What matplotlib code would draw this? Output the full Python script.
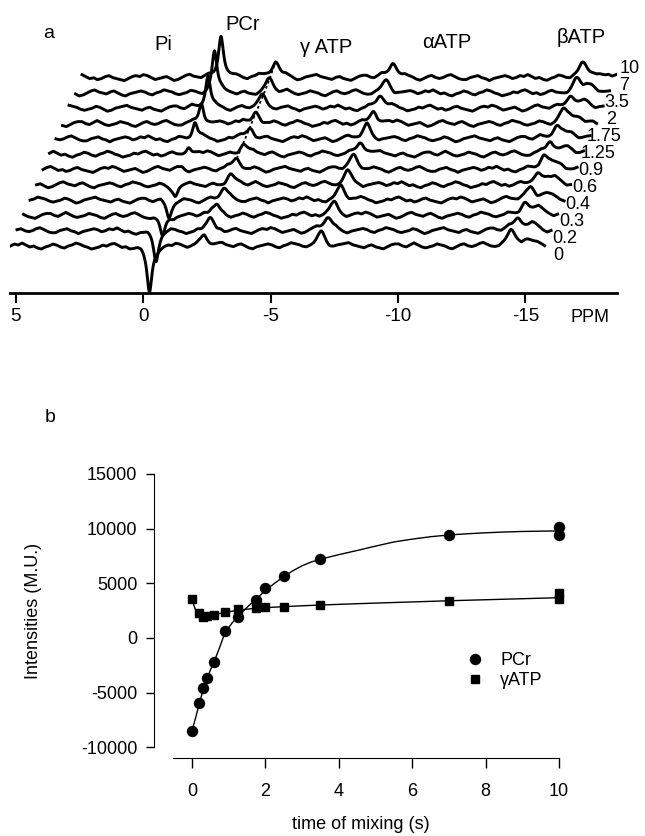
import numpy as np
import matplotlib
matplotlib.use("Agg")
import matplotlib.pyplot as plt

plt.rcParams['font.family'] = ['Liberation Sans', 'DejaVu Sans']
plt.rcParams['axes.unicode_minus'] = False

# ==========================
# Panel a : stacked spectra
# ==========================
mix_labels = ["0", "0.2", "0.3", "0.4", "0.6", "0.9", "1.25", "1.75", "2", "3.5", "7", "10"]
ppm_ticks = [5, 0, -5, -10, -15]

# peak positions (ppm) : PCr, gamma ATP, alpha ATP, beta ATP
peak_ppm = [-0.25, -2.4, -7.0, -14.45]
# peak heights per spectrum (bottom -> top)
pcr_amp = [-45, -30, -22, -17, -10, 3, 9, 16, 21, 33, 41, 44]
gatp_amp = [13, 11, 11, 11, 11, 11, 11, 11, 12, 12, 13, 17]
aatp_amp = [14, 14, 14, 14, 14, 14, 14, 14, 14, 14, 13, 16]
batp_amp = [14, 13, 13, 13, 13, 13, 13, 13, 13, 13, 13, 12]

# baseline wiggle (every ~0.15 ppm)
noise = [0, 2, 1, 3, 1, -1, 0, -2, -3, -1, 0, 2, 1, -1, -2, 0, 1, 3, 2, 0, -1, -3, -2, -1,
         1, 0, 2, 3, 1, -1, 0, -2, -1, 1, 2, 0, -1, -2, -3, -1, 1, 2, 1, 3, 2, 0, -2, -1,
         0, 1, -1, -3, -2, 0, 2, 3, 1, 0, -1, 1, 2, 0, -2, -3, -1, 0, 1, 2, 1, -1, -2, 0,
         1, 3, 2, 1, -1, -2, -1, 0, 2, 1, -1, -3, -2, 0, 1, 2, 3, 1, 0, -1, -2, 0, 1, -1,
         -2, -3, -1, 1, 2, 2, 0, -1, 1, 3, 1, -1, -2, -1, 0, 2, 1, 0, -2, -3, -1, 1, 2, 0,
         -1, 0, 2, 3, 1, -1, -2, -2, 0, 1, 2, 0, -1, -3, -1, 0, 1, 2, 1, -1]

# ==========================
# Panel b : intensities
# ==========================
pcr_t = [0, 0.2, 0.3, 0.4, 0.6, 0.9, 1.25, 1.75, 2, 2.5, 3.5, 7, 10, 10]
pcr_i = [-8490, -5930, -4610, -3690, -2170, 640, 1890, 3480, 4580, 5680, 7210, 9430, 10140, 9430]
gatp_t = [0, 0.2, 0.3, 0.4, 0.6, 0.9, 1.25, 1.75, 2, 2.5, 3.5, 7, 10, 10]
gatp_i = [3600, 2260, 1950, 2050, 2100, 2410, 2630, 2720, 2810, 2870, 3020, 3420, 4100, 3550]

# fitted curves
pcr_fit_t = [0, 0.1, 0.2, 0.3, 0.4, 0.5, 0.6, 0.75, 0.9, 1.1, 1.25, 1.5, 1.75, 2.0, 2.25,
             2.5, 2.75, 3.0, 3.25, 3.5, 4.0, 4.5, 5.0, 5.5, 6.0, 6.5, 7.0, 7.5, 8.0, 8.5,
             9.0, 9.5, 10]
pcr_fit = [-8490, -7300, -6000, -4800, -3800, -2950, -2200, -900, 500, 1400, 1950, 2800,
           3550, 4350, 5000, 5600, 6150, 6600, 6950, 7200, 7620, 8000, 8400, 8780, 9040,
           9260, 9420, 9530, 9620, 9690, 9740, 9770, 9790]
gatp_fit_t = [0, 0.05, 0.1, 0.15, 0.2, 0.3, 0.4, 0.5, 0.6, 0.75, 0.9, 1.1, 1.25, 1.5,
              1.75, 2.0, 2.5, 3.0, 3.5, 4.5, 5.5, 7.0, 8.5, 10]
gatp_fit = [3600, 3000, 2550, 2250, 2120, 2050, 2050, 2080, 2130, 2230, 2330, 2450, 2530,
            2630, 2710, 2770, 2860, 2940, 3010, 3130, 3240, 3400, 3540, 3680]

W, H = 645, 836
fig = plt.figure(figsize=(W / 100, H / 100), dpi=100)

# --------------------------
# panel a
# --------------------------
ax1 = fig.add_axes([10 / W, 1 - 293 / H, 607 / W, 283 / H])
ax1.set_xlim(5.22, -18.59)
ax1.set_ylim(0, 283)

shift = 0.255   # ppm shift per spectrum
step = 15.3     # vertical step per spectrum
base0 = 47
local = np.linspace(5.2, -15.75, 1600)
noise_ppm = np.linspace(5.2, -15.75, len(noise))
widths = [0.12, 0.18, 0.18, 0.2]

for k in range(len(mix_labels)):
    wig = np.interp(local, noise_ppm[::-1], np.roll(noise, 23 * k)[::-1])
    y = wig.astype(float)
    amps = [pcr_amp[k], gatp_amp[k], aatp_amp[k], batp_amp[k]]
    for p, a, w in zip(peak_ppm, amps, widths):
        y += a / (1 + ((local - p) / w) ** 2)
    # shoulder on the beta ATP line
    y += 0.45 * batp_amp[k] / (1 + ((local - (peak_ppm[3] - 0.6)) / 0.3) ** 2)
    base = base0 + step * k
    ax1.plot(local - shift * k, base + y, color="black", lw=2.1, solid_joinstyle="round")
    ax1.text(-15.75 - shift * k - 0.55, base - (5.5 - k) * 1.7, mix_labels[k],
             ha="center", va="center", fontsize=13)

# dotted ridge over gamma ATP tips
tips_x = [peak_ppm[1] - shift * k for k in range(5, len(mix_labels))]
tips_y = [base0 + step * k + gatp_amp[k] for k in range(5, len(mix_labels))]
ax1.plot(tips_x, tips_y, color="black", lw=1.3, ls=(0, (1.5, 1.5)))

ax1.text(-0.78, 248, "Pi", ha="center", va="center", fontsize=14.5)
ax1.text(-3.92, 268, "PCr", ha="center", va="center", fontsize=14.5)
ax1.text(-7.18, 245, "γ ATP", ha="center", va="center", fontsize=14.5)
ax1.text(-11.9, 250, "αATP", ha="center", va="center", fontsize=14.5)
ax1.text(-17.2, 255, "βATP", ha="center", va="center", fontsize=14.5)
ax1.text(-17.53, -24, "PPM", ha="center", va="center", fontsize=13)

for s in ["left", "right", "top"]:
    ax1.spines[s].set_visible(False)
ax1.spines["bottom"].set_linewidth(2)
ax1.set_yticks([])
ax1.set_xticks(ppm_ticks)
ax1.set_xticklabels([str(t) for t in ppm_ticks])
ax1.tick_params(axis="x", direction="out", length=7, width=1.5, pad=4, labelsize=13.5)

fig.text(49 / W, 1 - 33 / H, "a", ha="center", va="center", fontsize=14)

# --------------------------
# panel b
# --------------------------
ax2 = fig.add_axes([154 / W, 1 - 758 / H, 405 / W, 284 / H])
ax2.set_xlim(-1.035, 10)
ax2.set_ylim(-10990, 15000)

ax2.plot(pcr_fit_t, pcr_fit, color="black", lw=1.0, clip_on=False)
ax2.plot(gatp_fit_t, gatp_fit, color="black", lw=1.0, clip_on=False)
ax2.plot(pcr_t, pcr_i, "o", color="black", ms=7.2, label="PCr", clip_on=False)
ax2.plot(gatp_t, gatp_i, "s", color="black", ms=6.0, label="γATP", clip_on=False)

for s in ["right", "top"]:
    ax2.spines[s].set_visible(False)
ax2.spines["left"].set_bounds(-10000, 15000)
ax2.spines["bottom"].set_bounds(-0.52, 10)
ax2.set_yticks([-10000, -5000, 0, 5000, 10000, 15000])
ax2.set_xticks([0, 2, 4, 6, 8, 10])
ax2.tick_params(axis="y", direction="out", length=6, width=1, pad=6, labelsize=13)
ax2.tick_params(axis="x", direction="out", length=7, width=1, pad=11, labelsize=13)
ax2.set_xlabel("time of mixing (s)", fontsize=13)
ax2.set_ylabel("Intensities (M.U.)", fontsize=13)
ax2.xaxis.set_label_coords(0.511, -0.205)
ax2.yaxis.set_label_coords(-0.277, 0.518)

ax2.legend(loc="center left", bbox_to_anchor=(466 / W, 1 - 670.5 / H),
           bbox_transform=fig.transFigure, frameon=False, fontsize=13,
           handlelength=1.0, handletextpad=0.9, borderpad=0, labelspacing=0.15,
           borderaxespad=0)

fig.text(50 / W, 1 - 418 / H, "b", ha="center", va="center", fontsize=14)

fig.savefig("out.png", dpi=100)
